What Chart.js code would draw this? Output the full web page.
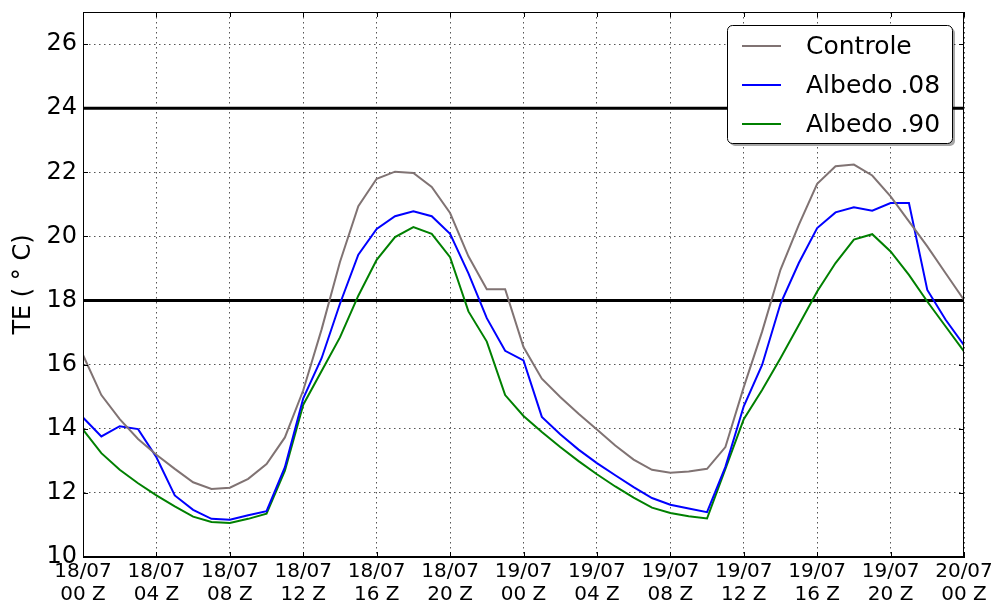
<!DOCTYPE html>
<html lang="pt">
<head>
<meta charset="UTF-8">
<title>TE</title>
<script src="https://cdn.jsdelivr.net/npm/chart.js"></script>
<style>
  body { margin: 0; background: #fff; }
</style>
</head>
<body>
<canvas id="chartTE" width="999" height="608"></canvas>
<script>
  // horas desde 18/07 00 Z
  const horas = [0, 1, 2, 3, 4, 5, 6, 7, 8, 9, 10, 11, 12, 13, 14, 15, 16, 17, 18, 19, 20, 21, 22, 23, 24,
    25, 26, 27, 28, 29, 30, 31, 32, 33, 34, 35, 36, 37, 38, 39, 40, 41, 42, 43, 44, 45, 46, 47, 48];

  const rotulosX = [
    ['18/07', '00 Z'], ['18/07', '04 Z'], ['18/07', '08 Z'], ['18/07', '12 Z'], ['18/07', '16 Z'],
    ['18/07', '20 Z'], ['19/07', '00 Z'], ['19/07', '04 Z'], ['19/07', '08 Z'], ['19/07', '12 Z'],
    ['19/07', '16 Z'], ['19/07', '20 Z'], ['20/07', '00 Z']
  ];

  const controle = [16.3, 15.05, 14.3, 13.68, 13.19, 12.75, 12.33, 12.12, 12.16, 12.44, 12.9, 13.73, 15.2,
    17.1, 19.2, 20.94, 21.8, 22.02, 21.98, 21.54, 20.73, 19.38, 18.35, 18.35, 16.55,
    15.56, 14.99, 14.47, 13.98, 13.48, 13.04, 12.72, 12.63, 12.67, 12.75, 13.43, 15.3,
    17.03, 18.96, 20.36, 21.64, 22.19, 22.24, 21.9, 21.25, 20.47, 19.69, 18.85, 18.02];

  const albedo08 = [14.35, 13.76, 14.08, 13.99, 13.11, 11.92, 11.47, 11.19, 11.16, 11.3, 11.43, 12.8, 14.95,
    16.2, 17.9, 19.43, 20.23, 20.63, 20.78, 20.63, 20.08, 18.85, 17.45, 16.43, 16.13,
    14.37, 13.83, 13.35, 12.93, 12.55, 12.18, 11.84, 11.63, 11.51, 11.4, 12.81, 14.7,
    15.99, 17.9, 19.17, 20.26, 20.75, 20.91, 20.8, 21.04, 21.04, 18.33, 17.4, 16.61];

  const albedo90 = [13.97, 13.24, 12.72, 12.3, 11.92, 11.58, 11.26, 11.09, 11.06, 11.19, 11.35, 12.69, 14.75,
    15.8, 16.85, 18.15, 19.27, 19.98, 20.29, 20.08, 19.35, 17.66, 16.72, 15.05, 14.4,
    13.9, 13.43, 12.99, 12.58, 12.2, 11.85, 11.54, 11.37, 11.27, 11.2, 12.75, 14.3,
    15.21, 16.2, 17.24, 18.28, 19.17, 19.9, 20.07, 19.53, 18.8, 17.97, 17.19, 16.41];

  // faixa de conforto
  const limites = [18, 24];

  const fonte = 'DejaVu Sans';

  function serie(valores) {
    return horas.map((h, i) => ({ x: h, y: valores[i] }));
  }

  function linhaLimite(v) {
    return {
      label: '',
      data: [{ x: horas[0], y: v }, { x: horas[horas.length - 1], y: v }],
      borderColor: '#000',
      borderWidth: 3,
      pointRadius: 0,
      tension: 0,
      semLegenda: true,
    };
  }

  // ticks para dentro nos quatro lados + moldura + legenda com sombra
  const extras = {
    id: 'extras',
    afterDraw(chart) {
      const ctx = chart.ctx;
      const a = chart.chartArea;
      const sx = chart.scales.x, sy = chart.scales.y;
      ctx.save();
      ctx.strokeStyle = '#000';
      ctx.lineWidth = 1;
      ctx.strokeRect(a.left + 0.5, a.top + 0.5, a.right - a.left - 1, a.bottom - a.top - 1);
      ctx.beginPath();
      sx.ticks.forEach(t => {
        const px = Math.round(sx.getPixelForValue(t.value)) + 0.5;
        ctx.moveTo(px, a.bottom); ctx.lineTo(px, a.bottom - 5);
        ctx.moveTo(px, a.top); ctx.lineTo(px, a.top + 5);
      });
      sy.ticks.forEach(t => {
        const py = Math.round(sy.getPixelForValue(t.value)) + 0.5;
        ctx.moveTo(a.left, py); ctx.lineTo(a.left + 5, py);
        ctx.moveTo(a.right, py); ctx.lineTo(a.right - 5, py);
      });
      ctx.stroke();

      // legenda
      const itens = chart.data.datasets.filter(d => !d.semLegenda);
      const bx = 727, by = 25, bw = 225, bh = 118, r = 5;
      const caixa = (x, y) => {
        ctx.beginPath();
        ctx.roundRect(x, y, bw, bh, r);
      };
      ctx.fillStyle = 'rgba(0,0,0,0.35)';
      caixa(bx + 3, by + 3);
      ctx.fill();
      ctx.fillStyle = '#fff';
      caixa(bx + 0.5, by + 0.5);
      ctx.fill();
      ctx.strokeStyle = '#000';
      ctx.lineWidth = 1;
      ctx.stroke();

      ctx.font = '25px "' + fonte + '"';
      ctx.textBaseline = 'middle';
      ctx.textAlign = 'left';
      itens.forEach((d, i) => {
        const y = by + 21 + i * 39;
        ctx.strokeStyle = d.borderColor;
        ctx.lineWidth = d.borderWidth;
        ctx.beginPath();
        ctx.moveTo(742, y);
        ctx.lineTo(781, y);
        ctx.stroke();
        ctx.fillStyle = '#000';
        ctx.fillText(d.label, 806, y + 1);
      });
      ctx.restore();
    }
  };

  const grade = {
    color: '#555',
    lineWidth: 1,
    drawTicks: false,
  };

  new Chart(document.getElementById('chartTE'), {
    type: 'line',
    data: {
      datasets: [
        { label: 'Controle', data: serie(controle), borderColor: '#807373', borderWidth: 2, pointRadius: 0, tension: 0 },
        { label: 'Albedo .08', data: serie(albedo08), borderColor: '#0000ff', borderWidth: 2, pointRadius: 0, tension: 0 },
        { label: 'Albedo .90', data: serie(albedo90), borderColor: '#008000', borderWidth: 2, pointRadius: 0, tension: 0 },
        linhaLimite(limites[0]),
        linhaLimite(limites[1]),
      ]
    },
    options: {
      responsive: false,
      animation: false,
      layout: { padding: { top: 12, right: 35, left: 0, bottom: 0 } },
      plugins: {
        legend: { display: false },
        tooltip: { enabled: false },
      },
      scales: {
        x: {
          type: 'linear',
          min: 0,
          max: 48,
          grid: grade,
          border: { display: true, color: '#000', width: 1, dash: [1.5, 3.5] },
          ticks: {
            stepSize: 4,
            autoSkip: false,
            maxRotation: 0,
            padding: 3,
            color: '#000',
            font: { family: fonte, size: 20, lineHeight: 1.15 },
            callback: v => rotulosX[v / 4],
          },
          afterFit: s => {
            s.height = 51;
            s.paddingLeft = 0;
            s.paddingRight = 0;
          },
        },
        y: {
          min: 10,
          max: 27,
          grid: grade,
          border: { display: true, color: '#000', width: 1, dash: [1.5, 3.5] },
          ticks: {
            stepSize: 2,
            includeBounds: false,
            padding: 6,
            color: '#000',
            font: { family: fonte, size: 24 },
          },
          title: {
            display: true,
            text: 'TE ( ° C)',
            color: '#000',
            font: { family: fonte, size: 24 },
            padding: { top: 9, bottom: 0 },
          },
          afterFit: s => {
            s.width = 83;
            s.paddingTop = 0;
            s.paddingBottom = 0;
          },
        }
      }
    },
    plugins: [extras]
  });
</script>
</body>
</html>
